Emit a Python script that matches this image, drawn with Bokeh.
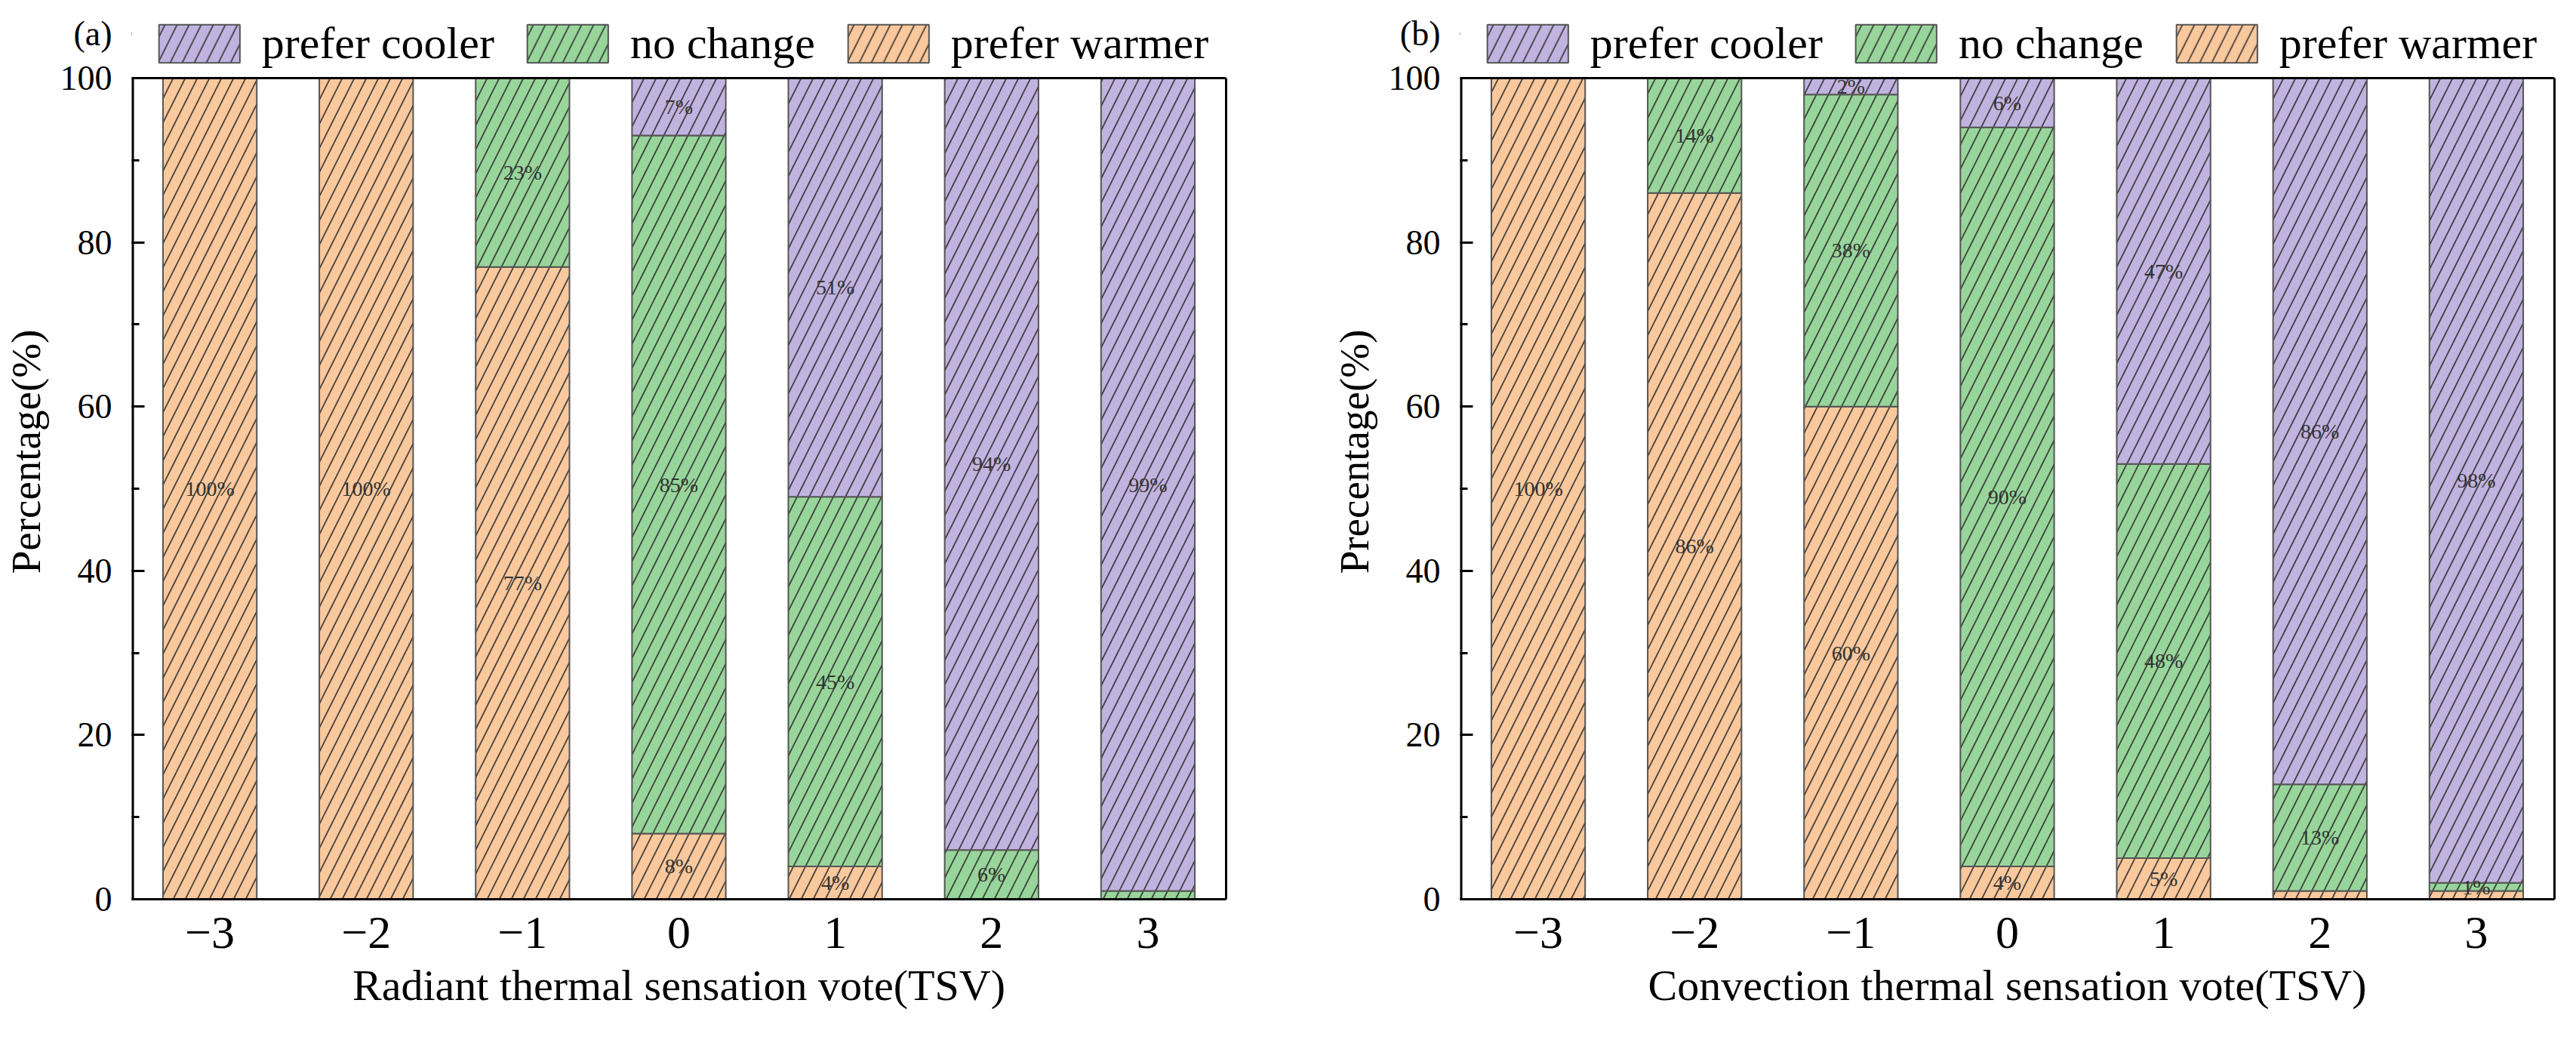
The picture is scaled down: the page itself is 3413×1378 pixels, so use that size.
from bokeh.plotting import figure
from bokeh.models import (Range1d, FixedTicker, Legend, LegendItem,
                          ColumnDataSource, LinearAxis, Span, BoxAnnotation)
from bokeh.layouts import row
from bokeh.embed import file_html
from bokeh.resources import INLINE
from bokeh.core.properties import value

# ---------------- data ----------------
tsv = [-3, -2, -1, 0, 1, 2, 3]
tsv_labels = ["\u22123", "\u22122", "\u22121", "0", "1", "2", "3"]
y_ticks = [0, 20, 40, 60, 80, 100]
y_minor = [10, 30, 50, 70, 90]

a_warmer = [100, 100, 77, 8, 4, 0, 0]
a_nochange = [0, 0, 23, 85, 45, 6, 1]
a_cooler = [0, 0, 0, 7, 51, 94, 99]

b_warmer = [100, 86, 60, 4, 5, 1, 1]
b_nochange = [0, 14, 38, 90, 48, 13, 1]
b_cooler = [0, 0, 2, 6, 47, 86, 98]

series = ["prefer warmer", "no change", "prefer cooler"]
colors = ["#F9C89C", "#98D59B", "#C1B3DF"]

# labels that are not printed in the original (tsv, series)
a_hidden = [(3, "no change")]
b_hidden = [(2, "prefer warmer"), (3, "prefer warmer")]

FONT = "Liberation Serif"
YMAX = 109          # room above the 0-100 box for legend and panel letter
LETTER_Y = 105.4    # height of the panel letter (a)/(b)
PX_PER_UNIT = 10.88
FRAME_H = int(round(YMAX * PX_PER_UNIT))
TOP = 5
BOTTOM = 171
H = TOP + FRAME_H + BOTTOM


def make_panel(letter, warmer, nochange, cooler, xlabel, ylabel, hidden,
               width, bl, br):
    p = figure(width=width, height=H, x_range=Range1d(-3.5, 3.5),
               y_range=Range1d(0, YMAX), output_backend="svg",
               toolbar_location=None, min_border_left=bl, min_border_right=br,
               min_border_top=TOP, min_border_bottom=BOTTOM)
    p.xgrid.visible = False
    p.ygrid.visible = False
    p.outline_line_color = None
    p.background_fill_color = "white"
    p.border_fill_color = "white"

    vals = [warmer, nochange, cooler]
    bottoms = [[0] * len(tsv), list(warmer),
               [w + n for w, n in zip(warmer, nochange)]]
    renderers = []
    lx, ly, lt = [], [], []
    for name, col, v, b in zip(series, colors, vals, bottoms):
        tops = [bb + vv for bb, vv in zip(b, v)]
        src = ColumnDataSource(dict(x=tsv, bottom=b, top=tops))
        r = p.vbar(x="x", bottom="bottom", top="top", width=0.6, source=src,
                   fill_color=col, line_color="#555555", line_width=2,
                   hatch_pattern="/", hatch_color="#2a2a2a", hatch_alpha=0.85,
                   hatch_weight=1.8, hatch_scale=32)
        renderers.append(r)
        for x, bb, vv in zip(tsv, b, v):
            if vv > 0 and (x, name) not in hidden:
                lx.append(x)
                ly.append(bb + vv / 2)
                lt.append(f"{vv}%")
    p.text(x=lx, y=ly, text=lt, text_font=value(FONT), text_font_size="28px",
           text_align="center", text_baseline="middle", text_color="#333333")

    # box around 0-100: left edge, top edge (right edge is an axis below)
    p.segment(x0=[-3.5], y0=[0], x1=[-3.5], y1=[100], line_color="black",
              line_width=6)
    p.add_layout(Span(location=100, dimension="width", line_color="black",
                      line_width=3))

    # x axis
    xa = p.xaxis[0]
    xa.ticker = FixedTicker(ticks=tsv)
    xa.major_label_overrides = {t: l for t, l in zip(tsv, tsv_labels)}
    xa.major_tick_in = 0
    xa.major_tick_out = 0
    xa.minor_tick_in = 0
    xa.minor_tick_out = 0
    xa.axis_line_width = 3
    xa.major_label_text_font = FONT
    xa.major_label_text_font_size = "62px"
    xa.major_label_text_color = "black"
    xa.major_label_standoff = 24
    xa.axis_label = xlabel
    xa.axis_label_text_font = FONT
    xa.axis_label_text_font_size = "58px"
    xa.axis_label_text_font_style = "normal"
    xa.axis_label_text_color = "black"
    xa.axis_label_standoff = 14

    # y axis (also carries the panel letter as an extra labelled position)
    ya = p.yaxis[0]
    ya.ticker = FixedTicker(ticks=y_ticks + [LETTER_Y], minor_ticks=y_minor)
    ya.major_label_overrides = {LETTER_Y: letter}
    ya.axis_line_color = None
    ya.major_tick_in = 17
    ya.major_tick_out = 0
    ya.minor_tick_in = 10
    ya.minor_tick_out = 0
    ya.major_tick_line_width = 3
    ya.minor_tick_line_width = 3
    ya.major_label_text_font = FONT
    ya.major_label_text_font_size = "46px"
    ya.major_label_text_color = "black"
    ya.major_label_standoff = 26
    ya.axis_label = ylabel
    ya.axis_label_text_font = FONT
    ya.axis_label_text_font_size = "55px"
    ya.axis_label_text_font_style = "normal"
    ya.axis_label_text_color = "black"
    ya.axis_label_standoff = 12
    # hide the tick mark that belongs to the letter position
    p.add_layout(BoxAnnotation(left=-3.5, right=-3.38, bottom=LETTER_Y - 0.5,
                               top=LETTER_Y + 0.5, fill_color="white",
                               fill_alpha=1, line_alpha=0, level="overlay"))

    # right edge of the box
    ra = LinearAxis(bounds=(0, 100), ticker=FixedTicker(ticks=[]),
                    axis_line_width=3, major_tick_in=0, major_tick_out=0,
                    minor_tick_in=0, minor_tick_out=0,
                    major_label_text_font_size="1px")
    p.add_layout(ra, "right")

    # legend (order: cooler, no change, warmer)
    items = [LegendItem(label=series[i], renderers=[renderers[i]])
             for i in (2, 1, 0)]
    leg = Legend(items=items, orientation="horizontal", location="top_center",
                 glyph_width=134, glyph_height=63, label_standoff=16,
                 spacing=30, padding=0, margin=18,
                 label_text_font=FONT, label_text_font_size="60px",
                 label_text_color="black", border_line_alpha=0,
                 background_fill_alpha=0)
    p.add_layout(leg, "center")
    return p


pa = make_panel("(a)", a_warmer, a_nochange, a_cooler,
                "Radiant thermal sensation vote(TSV)", "Percentage(%)",
                a_hidden, 1740, 174, 116)
pb = make_panel("(b)", b_warmer, b_nochange, b_cooler,
                "Convection thermal sensation vote(TSV)", "Precentage(%)",
                b_hidden, 1657, 194, 13)

layout = row(pa, pb)
open("out.html", "w").write(file_html(layout, INLINE))
